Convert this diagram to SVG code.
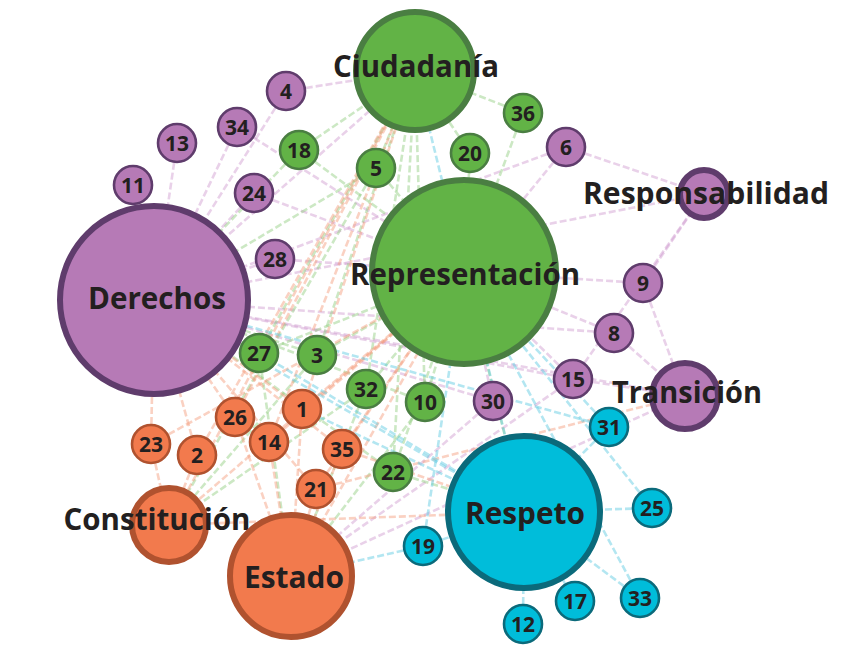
<svg xmlns="http://www.w3.org/2000/svg" width="864" height="663" viewBox="0 0 864 663">
<defs>
<style>
.e{fill:none;stroke-width:2.6;stroke-dasharray:7 3;stroke-linecap:butt}
.ep{stroke:#cf98cf;opacity:.45}
.eg{stroke:#8fcb7c;opacity:.45}
.eo{stroke:#f59a78;opacity:.45}
.ec{stroke:#56c7df;opacity:.45}
.p{fill:#b67ab6;stroke:#5f3c6c}
.g{fill:#62b346;stroke:#4a7e42}
.o{fill:#f27a4d;stroke:#b0522f}
.c{fill:#00bdda;stroke:#0b6a7b}
.s{stroke-width:2.6}
.b{stroke-width:6}
text{font-family:"Open Sans","Liberation Sans",sans-serif;font-weight:700;fill:#231f20;text-anchor:middle}
.n{font-size:21px}
.L{font-size:30px}
</style>
</defs>
<rect width="864" height="663" fill="#ffffff"/>
<g id="connectors">
<!-- purple -->
<line class="e ep" x1="286" y1="91" x2="415" y2="71"/>
<line class="e ep" x1="286" y1="91" x2="154" y2="300"/>
<line class="e ep" x1="237" y1="127" x2="154" y2="300"/>
<line class="e ep" x1="237" y1="127" x2="464" y2="272"/>
<line class="e ep" x1="177" y1="143" x2="154" y2="300"/>
<line class="e ep" x1="133" y1="185" x2="154" y2="300"/>
<line class="e ep" x1="254" y1="193" x2="154" y2="300"/>
<line class="e ep" x1="254" y1="193" x2="464" y2="272"/>
<line class="e ep" x1="275" y1="259" x2="154" y2="300"/>
<line class="e ep" x1="275" y1="259" x2="464" y2="272"/>
<line class="e ep" x1="566" y1="147" x2="704" y2="194"/>
<line class="e ep" x1="566" y1="147" x2="464" y2="272"/>
<line class="e ep" x1="566" y1="147" x2="154" y2="300"/>
<line class="e ep" x1="643" y1="283" x2="704" y2="194"/>
<line class="e ep" x1="643" y1="283" x2="685" y2="396"/>
<line class="e ep" x1="643" y1="283" x2="464" y2="272"/>
<line class="e ep" x1="614" y1="333" x2="464" y2="272"/>
<line class="e ep" x1="614" y1="333" x2="685" y2="396"/>
<line class="e ep" x1="614" y1="333" x2="154" y2="300"/>
<line class="e ep" x1="573" y1="379" x2="704" y2="194"/>
<line class="e ep" x1="573" y1="379" x2="464" y2="272"/>
<line class="e ep" x1="573" y1="379" x2="685" y2="396"/>
<line class="e ep" x1="573" y1="379" x2="154" y2="300"/>
<line class="e ep" x1="573" y1="379" x2="291" y2="576"/>
<line class="e ep" x1="493" y1="401" x2="464" y2="272"/>
<line class="e ep" x1="493" y1="401" x2="154" y2="300"/>
<line class="e ep" x1="493" y1="401" x2="291" y2="576"/>
<line class="e ep" x1="685" y1="396" x2="154" y2="300"/>
<line class="e ep" x1="704" y1="194" x2="154" y2="300"/>
<line class="e ep" x1="685" y1="396" x2="291" y2="576"/>
<line class="e ep" x1="154" y1="300" x2="415" y2="71"/>
<!-- green -->
<line class="e eg" x1="299" y1="150" x2="415" y2="71"/>
<line class="e eg" x1="299" y1="150" x2="154" y2="300"/>
<line class="e eg" x1="299" y1="150" x2="464" y2="272"/>
<line class="e eg" x1="376" y1="168" x2="415" y2="71"/>
<line class="e eg" x1="376" y1="168" x2="154" y2="300"/>
<line class="e eg" x1="376" y1="168" x2="464" y2="272"/>
<line class="e eg" x1="376" y1="168" x2="169" y2="525"/>
<line class="e eg" x1="523" y1="113" x2="415" y2="71"/>
<line class="e eg" x1="523" y1="113" x2="464" y2="272"/>
<line class="e eg" x1="470" y1="153" x2="415" y2="71"/>
<line class="e eg" x1="470" y1="153" x2="464" y2="272"/>
<line class="e eg" x1="259" y1="353" x2="154" y2="300"/>
<line class="e eg" x1="259" y1="353" x2="464" y2="272"/>
<line class="e eg" x1="259" y1="353" x2="415" y2="71"/>
<line class="e eg" x1="259" y1="353" x2="291" y2="576"/>
<line class="e eg" x1="317" y1="355" x2="415" y2="71"/>
<line class="e eg" x1="317" y1="355" x2="464" y2="272"/>
<line class="e eg" x1="317" y1="355" x2="154" y2="300"/>
<line class="e eg" x1="317" y1="355" x2="169" y2="525"/>
<line class="e eg" x1="366" y1="389" x2="464" y2="272"/>
<line class="e eg" x1="366" y1="389" x2="415" y2="71"/>
<line class="e eg" x1="366" y1="389" x2="169" y2="525"/>
<line class="e eg" x1="366" y1="389" x2="291" y2="576"/>
<line class="e eg" x1="425" y1="402" x2="464" y2="272"/>
<line class="e eg" x1="425" y1="402" x2="415" y2="71"/>
<line class="e eg" x1="425" y1="402" x2="154" y2="300"/>
<line class="e eg" x1="425" y1="402" x2="291" y2="576"/>
<line class="e eg" x1="393" y1="472" x2="464" y2="272"/>
<line class="e eg" x1="393" y1="472" x2="415" y2="71"/>
<line class="e eg" x1="393" y1="472" x2="154" y2="300"/>
<line class="e eg" x1="393" y1="472" x2="524" y2="512"/>
<line class="e eg" x1="464" y1="272" x2="524" y2="512"/>
<!-- orange -->
<line class="e eo" x1="302" y1="409" x2="291" y2="576"/>
<line class="e eo" x1="302" y1="409" x2="415" y2="71"/>
<line class="e eo" x1="302" y1="409" x2="154" y2="300"/>
<line class="e eo" x1="302" y1="409" x2="464" y2="272"/>
<line class="e eo" x1="235" y1="417" x2="154" y2="300"/>
<line class="e eo" x1="235" y1="417" x2="291" y2="576"/>
<line class="e eo" x1="235" y1="417" x2="415" y2="71"/>
<line class="e eo" x1="151" y1="444" x2="154" y2="300"/>
<line class="e eo" x1="151" y1="444" x2="169" y2="525"/>
<line class="e eo" x1="151" y1="444" x2="464" y2="272"/>
<line class="e eo" x1="197" y1="455" x2="169" y2="525"/>
<line class="e eo" x1="197" y1="455" x2="154" y2="300"/>
<line class="e eo" x1="197" y1="455" x2="415" y2="71"/>
<line class="e eo" x1="269" y1="442" x2="291" y2="576"/>
<line class="e eo" x1="269" y1="442" x2="464" y2="272"/>
<line class="e eo" x1="269" y1="442" x2="415" y2="71"/>
<line class="e eo" x1="342" y1="449" x2="291" y2="576"/>
<line class="e eo" x1="342" y1="449" x2="464" y2="272"/>
<line class="e eo" x1="342" y1="449" x2="524" y2="512"/>
<line class="e eo" x1="342" y1="449" x2="154" y2="300"/>
<line class="e eo" x1="316" y1="489" x2="291" y2="576"/>
<line class="e eo" x1="316" y1="489" x2="464" y2="272"/>
<line class="e eo" x1="316" y1="489" x2="154" y2="300"/>
<line class="e eo" x1="316" y1="489" x2="685" y2="396"/>
<line class="e eo" x1="169" y1="525" x2="415" y2="71"/>
<line class="e eo" x1="169" y1="525" x2="524" y2="512"/>
<line class="e eo" x1="291" y1="576" x2="464" y2="272"/>
<line class="e eo" x1="169" y1="525" x2="464" y2="272"/>
<!-- cyan -->
<line class="e ec" x1="609" y1="427" x2="524" y2="512"/>
<line class="e ec" x1="609" y1="427" x2="154" y2="300"/>
<line class="e ec" x1="609" y1="427" x2="464" y2="272"/>
<line class="e ec" x1="652" y1="508" x2="524" y2="512"/>
<line class="e ec" x1="652" y1="508" x2="464" y2="272"/>
<line class="e ec" x1="640" y1="598" x2="524" y2="512"/>
<line class="e ec" x1="640" y1="598" x2="464" y2="272"/>
<line class="e ec" x1="575" y1="601" x2="524" y2="512"/>
<line class="e ec" x1="523" y1="624" x2="524" y2="512"/>
<line class="e ec" x1="423" y1="546" x2="524" y2="512"/>
<line class="e ec" x1="423" y1="546" x2="464" y2="272"/>
<line class="e ec" x1="423" y1="546" x2="291" y2="576"/>
<line class="e ec" x1="524" y1="512" x2="154" y2="300"/>
<line class="e ec" x1="524" y1="512" x2="259" y2="353"/>
<line class="e ec" x1="524" y1="512" x2="415" y2="71"/>
<line class="e ec" x1="524" y1="512" x2="302" y2="409"/>
</g>
<g id="n4"><circle class="p s" cx="286" cy="91" r="19"/><text class="n" x="286" y="98.5">4</text></g>
<g id="n34"><circle class="p s" cx="237" cy="127" r="19"/><text class="n" x="237" y="134.5">34</text></g>
<g id="n13"><circle class="p s" cx="177" cy="143" r="19"/><text class="n" x="177" y="150.5">13</text></g>
<g id="n11"><circle class="p s" cx="133" cy="185" r="19"/><text class="n" x="133" y="192.5">11</text></g>
<g id="n18"><circle class="g s" cx="299" cy="150" r="19"/><text class="n" x="299" y="157.5">18</text></g>
<g id="n5"><circle class="g s" cx="376" cy="168" r="19"/><text class="n" x="376" y="175.5">5</text></g>
<g id="n24"><circle class="p s" cx="254" cy="193" r="19"/><text class="n" x="254" y="200.5">24</text></g>
<g id="n36"><circle class="g s" cx="523" cy="113" r="19"/><text class="n" x="523" y="120.5">36</text></g>
<g id="n20"><circle class="g s" cx="470" cy="153" r="19"/><text class="n" x="470" y="160.5">20</text></g>
<g id="n6"><circle class="p s" cx="566" cy="147" r="19"/><text class="n" x="566" y="154.5">6</text></g>
<g id="n28"><circle class="p s" cx="275" cy="259" r="19"/><text class="n" x="275" y="266.5">28</text></g>
<g id="n27"><circle class="g s" cx="259" cy="353" r="19"/><text class="n" x="259" y="360.5">27</text></g>
<g id="n3"><circle class="g s" cx="317" cy="355" r="19"/><text class="n" x="317" y="362.5">3</text></g>
<g id="n32"><circle class="g s" cx="366" cy="389" r="19"/><text class="n" x="366" y="396.5">32</text></g>
<g id="n10"><circle class="g s" cx="425" cy="402" r="19"/><text class="n" x="425" y="409.5">10</text></g>
<g id="n9"><circle class="p s" cx="643" cy="283" r="19"/><text class="n" x="643" y="290.5">9</text></g>
<g id="n8"><circle class="p s" cx="614" cy="333" r="19"/><text class="n" x="614" y="340.5">8</text></g>
<g id="n15"><circle class="p s" cx="573" cy="379" r="19"/><text class="n" x="573" y="386.5">15</text></g>
<g id="n30"><circle class="p s" cx="493" cy="401" r="19"/><text class="n" x="493" y="408.5">30</text></g>
<g id="n31"><circle class="c s" cx="609" cy="427" r="19"/><text class="n" x="609" y="434.5">31</text></g>
<g id="n25"><circle class="c s" cx="652" cy="508" r="19"/><text class="n" x="652" y="515.5">25</text></g>
<g id="n33"><circle class="c s" cx="640" cy="598" r="19"/><text class="n" x="640" y="605.5">33</text></g>
<g id="n17"><circle class="c s" cx="575" cy="601" r="19"/><text class="n" x="575" y="608.5">17</text></g>
<g id="n12"><circle class="c s" cx="523" cy="624" r="19"/><text class="n" x="523" y="631.5">12</text></g>
<g id="n19"><circle class="c s" cx="423" cy="546" r="19"/><text class="n" x="423" y="553.5">19</text></g>
<g id="n1"><circle class="o s" cx="302" cy="409" r="19"/><text class="n" x="302" y="416.5">1</text></g>
<g id="n26"><circle class="o s" cx="235" cy="417" r="19"/><text class="n" x="235" y="424.5">26</text></g>
<g id="n23"><circle class="o s" cx="151" cy="444" r="19"/><text class="n" x="151" y="451.5">23</text></g>
<g id="n2"><circle class="o s" cx="197" cy="455" r="19"/><text class="n" x="197" y="462.5">2</text></g>
<g id="n14"><circle class="o s" cx="269" cy="442" r="19"/><text class="n" x="269" y="449.5">14</text></g>
<g id="n35"><circle class="o s" cx="342" cy="449" r="19"/><text class="n" x="342" y="456.5">35</text></g>
<g id="n22"><circle class="g s" cx="393" cy="472" r="19"/><text class="n" x="393" y="479.5">22</text></g>
<g id="n21"><circle class="o s" cx="316" cy="489" r="19"/><text class="n" x="316" y="496.5">21</text></g>
<g id="ciudadania"><circle class="g b" cx="415" cy="71" r="59"/><text class="L" x="416" y="77" textLength="166" lengthAdjust="spacingAndGlyphs">Ciudadanía</text></g>
<g id="representacion"><circle class="g b" cx="464" cy="272" r="92"/><text class="L" x="465" y="285" textLength="230" lengthAdjust="spacingAndGlyphs">Representación</text></g>
<g id="derechos"><circle class="p b" cx="154" cy="300" r="94"/><text class="L" x="157" y="309" textLength="138" lengthAdjust="spacingAndGlyphs">Derechos</text></g>
<g id="responsabilidad"><circle class="p b" cx="704" cy="194" r="24"/><text class="L" x="706" y="204" textLength="246" lengthAdjust="spacingAndGlyphs">Responsabilidad</text></g>
<g id="transicion"><circle class="p b" cx="685" cy="396" r="33"/><text class="L" x="687" y="403" textLength="150" lengthAdjust="spacingAndGlyphs">Transición</text></g>
<g id="respeto"><circle class="c b" cx="524" cy="512" r="76"/><text class="L" x="525" y="524" textLength="120" lengthAdjust="spacingAndGlyphs">Respeto</text></g>
<g id="constitucion"><circle class="o b" cx="169" cy="525" r="37"/><text class="L" x="157" y="530" textLength="187" lengthAdjust="spacingAndGlyphs">Constitución</text></g>
<g id="estado"><circle class="o b" cx="291" cy="576" r="61"/><text class="L" x="294" y="588" textLength="100" lengthAdjust="spacingAndGlyphs">Estado</text></g>
</svg>
